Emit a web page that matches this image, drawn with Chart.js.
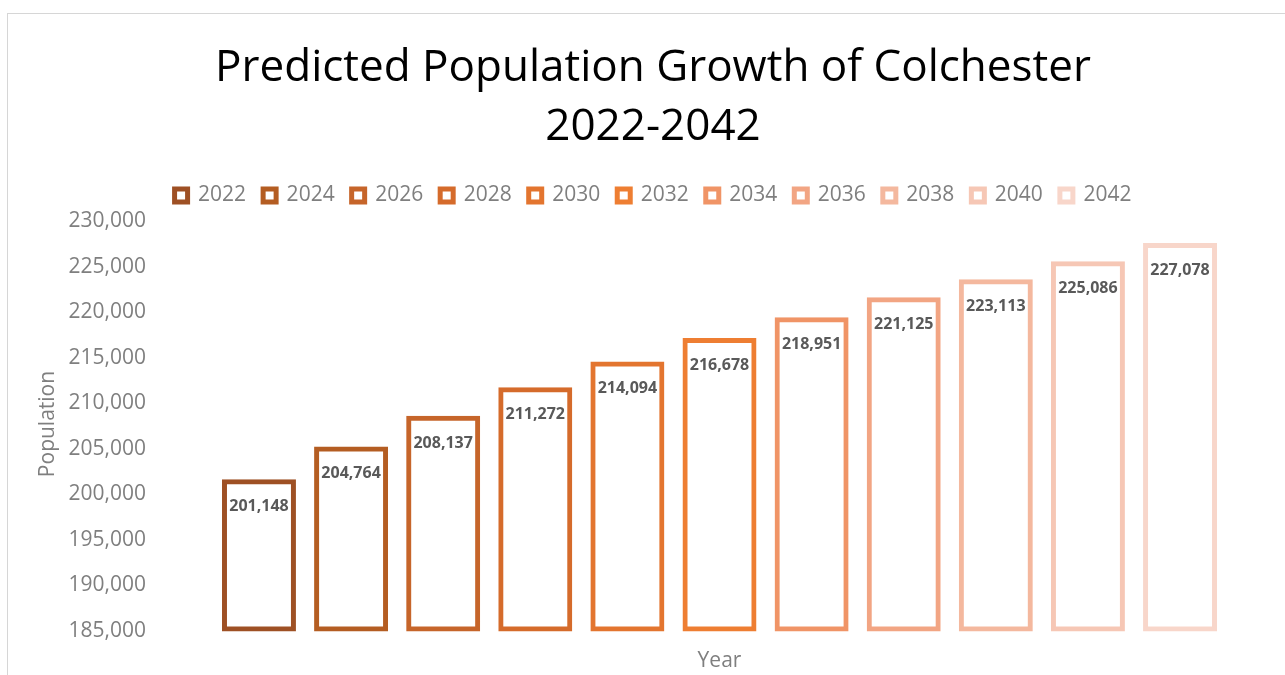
<!DOCTYPE html>
<html>
<head>
<meta charset="utf-8">
<title>Predicted Population Growth of Colchester 2022-2042</title>
<script src="https://cdn.jsdelivr.net/npm/chart.js@4/dist/chart.umd.min.js"></script>
<style>
  html, body { margin: 0; padding: 0; background: #ffffff; }
  #wrap { position: relative; width: 1285px; height: 675px; overflow: hidden; background: #ffffff; }
  #frame { position: absolute; left: 7px; top: 13px; width: 1400px; height: 800px;
           border-top: 1px solid #d6d6d6; border-left: 1px solid #d6d6d6; }
  #c { position: absolute; left: 0; top: 0; }
</style>
</head>
<body>
<div id="wrap">
  <div id="frame"></div>
  <canvas id="c" width="1302" height="675"></canvas>
</div>
<script>
// Projected population, one series per year
const years = ['2022', '2024', '2026', '2028', '2030', '2032', '2034', '2036', '2038', '2040', '2042'];
const population = [201148, 204764, 208137, 211272, 214094, 216678, 218951, 221125, 223113, 225086, 227078];
const seriesColors = ['#9E5024', '#B45D22', '#C6652A', '#D56B2B', '#E3752F', '#EE7E32',
                      '#F09466', '#F2A583', '#F4B89E', '#F6C7B5', '#F8D6CA'];
const yMin = 185000;
const yMax = 230000;
const yStep = 5000;

const FONT = "'Open Sans', 'DejaVu Sans', sans-serif";
const GREY = '#7f7f7f';
const fmt = v => Number(v).toLocaleString('en-US');

const datasets = years.map((yr, i) => ({
  label: yr,
  data: [population[i]],
  base: yMin,
  backgroundColor: '#ffffff',
  borderColor: seriesColors[i],
  borderWidth: 5,
  borderSkipped: false,
  inflateAmount: 2.5,
  categoryPercentage: 0.899,
  barPercentage: 0.749,
  clip: false
}));

// Value labels just inside the top of each bar
const valueLabels = {
  id: 'valueLabels',
  afterDatasetsDraw(chart) {
    const ctx = chart.ctx;
    ctx.save();
    ctx.font = "bold 16px " + FONT;
    ctx.fillStyle = '#595959';
    ctx.textAlign = 'center';
    ctx.textBaseline = 'middle';
    chart.data.datasets.forEach((ds, i) => {
      const meta = chart.getDatasetMeta(i);
      meta.data.forEach((bar, j) => {
        ctx.fillText(fmt(ds.data[j]), bar.x, bar.y + 25);
      });
    });
    ctx.restore();
  }
};

// Lift the legend row slightly so it sits closer to the title
const legendNudge = {
  id: 'legendNudge',
  afterLayout(chart) {
    const lg = chart.legend;
    if (lg) { lg.top -= 3; lg.bottom -= 3; }
  }
};

new Chart(document.getElementById('c'), {
  type: 'bar',
  data: { labels: ['Colchester'], datasets },
  options: {
    responsive: false,
    animation: false,
    devicePixelRatio: 1,
    layout: { padding: { left: 23, right: 19, top: 0, bottom: 0 } },
    plugins: {
      title: {
        display: true,
        text: ['Predicted Population Growth of Colchester', '2022-2042'],
        color: '#000000',
        font: { family: FONT, size: 44, weight: 'normal', lineHeight: 59 / 44 },
        padding: { top: 39, bottom: 14 }
      },
      legend: {
        display: true,
        position: 'top',
        labels: {
          color: GREY,
          font: { family: FONT, size: 21 },
          boxWidth: 13,
          boxHeight: 13,
          padding: 17
        }
      },
      tooltip: { enabled: false }
    },
    scales: {
      x: {
        grid: { display: false, drawTicks: false },
        border: { display: false },
        ticks: { display: false },
        title: {
          display: true,
          text: 'Year',
          color: GREY,
          font: { family: FONT, size: 21 },
          padding: { top: 0, bottom: 1 }
        },
        afterFit(scale) { scale.height = 46; }
      },
      y: {
        min: yMin,
        max: yMax,
        grid: { display: false, drawTicks: false },
        border: { display: false },
        ticks: {
          stepSize: yStep,
          color: GREY,
          padding: 10,
          labelOffset: 2,
          font: { family: FONT, size: 21 },
          callback: v => fmt(v)
        },
        title: {
          display: true,
          text: 'Population',
          color: GREY,
          font: { family: FONT, size: 21 },
          padding: { top: 12, bottom: 0 }
        },
        afterFit(scale) { scale.width = 133; }
      }
    }
  },
  plugins: [valueLabels, legendNudge]
});
</script>
</body>
</html>
